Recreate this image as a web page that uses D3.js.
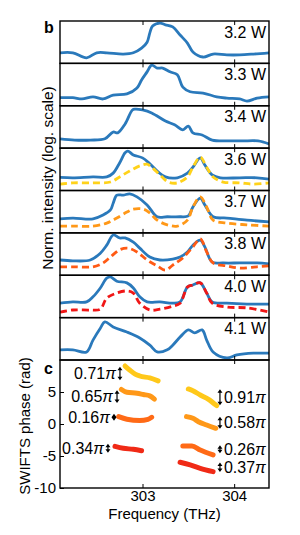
<!DOCTYPE html>
<html>
<head>
<meta charset="utf-8">
<script src="https://cdn.jsdelivr.net/npm/d3@7"></script>
<style>
body { margin: 0; background: #fff; }
svg { display: block; font-family: "Liberation Sans", Arial, sans-serif; }
</style>
</head>
<body>
<div id="chart"></div>
<script>
/* spectra vs pump power (b) and SWIFTS phase (c) */

// panel b: measured spectra, [frequency THz, norm. log intensity]
var powers = ['3.2 W', '3.3 W', '3.4 W', '3.6 W', '3.7 W', '3.8 W', '4.0 W', '4.1 W'];

var spec32 = [[302.10,0.25],[302.24,0.25],[302.39,0.13],[302.50,0.25],[302.61,0.25],[302.79,0.22],[302.90,0.25],[302.99,0.36],[303.05,0.5],[303.08,0.72],[303.11,0.88],[303.19,0.95],[303.25,0.91],[303.33,0.86],[303.41,0.67],[303.49,0.48],[303.55,0.27],[303.66,0.15],[303.77,0.22],[303.92,0.2],[304.06,0.2],[304.21,0.22],[304.38,0.25]];
var spec33 = [[302.10,0.19],[302.24,0.19],[302.34,0.16],[302.46,0.21],[302.57,0.16],[302.68,0.25],[302.83,0.28],[302.94,0.42],[302.99,0.61],[303.05,0.8],[303.10,0.96],[303.16,0.89],[303.22,0.89],[303.30,0.8],[303.38,0.73],[303.44,0.44],[303.52,0.33],[303.66,0.3],[303.81,0.21],[303.92,0.18],[304.06,0.16],[304.14,0.11],[304.25,0.18],[304.38,0.21]];
var spec34 = [[302.10,0.22],[302.26,0.19],[302.43,0.19],[302.59,0.22],[302.68,0.38],[302.73,0.36],[302.81,0.57],[302.89,0.9],[302.92,0.92],[303.00,0.9],[303.10,0.83],[303.25,0.64],[303.35,0.55],[303.44,0.43],[303.50,0.52],[303.55,0.36],[303.65,0.31],[303.76,0.19],[303.93,0.17],[304.09,0.17],[304.26,0.17],[304.38,0.1]];
var spec36 = [[302.10,0.31],[302.24,0.3],[302.46,0.32],[302.61,0.32],[302.68,0.41],[302.75,0.65],[302.81,0.89],[302.84,0.93],[302.90,0.84],[303.00,0.77],[303.08,0.63],[303.17,0.44],[303.25,0.32],[303.38,0.3],[303.49,0.41],[303.55,0.55],[303.63,0.77],[303.68,0.6],[303.76,0.37],[303.85,0.3],[304.06,0.3],[304.25,0.3],[304.38,0.27]];
var spec37 = [[302.10,0.33],[302.24,0.35],[302.46,0.33],[302.57,0.42],[302.65,0.54],[302.68,0.7],[302.72,0.89],[302.79,0.89],[302.86,0.92],[302.94,0.85],[303.05,0.66],[303.16,0.38],[303.27,0.38],[303.41,0.38],[303.50,0.4],[303.55,0.61],[303.63,0.82],[303.68,0.66],[303.77,0.38],[303.92,0.35],[304.14,0.3],[304.38,0.26]];
var spec38 = [[302.10,0.36],[302.24,0.34],[302.43,0.36],[302.54,0.52],[302.61,0.71],[302.68,0.95],[302.75,0.88],[302.81,0.88],[302.90,0.78],[302.97,0.64],[303.08,0.43],[303.19,0.36],[303.33,0.38],[303.41,0.43],[303.49,0.55],[303.55,0.71],[303.63,0.83],[303.68,0.67],[303.76,0.31],[303.88,0.29],[304.06,0.29],[304.25,0.29],[304.38,0.27]];
var spec40 = [[302.10,0.34],[302.24,0.37],[302.39,0.37],[302.46,0.49],[302.54,0.7],[302.61,0.93],[302.65,0.96],[302.72,0.86],[302.83,0.82],[302.90,0.7],[302.97,0.49],[303.05,0.37],[303.19,0.37],[303.33,0.34],[303.41,0.37],[303.49,0.72],[303.55,0.77],[303.63,0.82],[303.70,0.58],[303.76,0.37],[303.92,0.34],[304.14,0.32],[304.38,0.32]];
var spec41 = [[302.10,0.24],[302.24,0.24],[302.39,0.19],[302.46,0.47],[302.54,0.75],[302.59,0.9],[302.68,0.78],[302.83,0.66],[302.97,0.52],[303.08,0.35],[303.16,0.19],[303.27,0.24],[303.33,0.35],[303.41,0.54],[303.50,0.71],[303.57,0.64],[303.65,0.71],[303.70,0.47],[303.77,0.19],[303.92,0.05],[304.03,0.12],[304.21,0.16],[304.38,0.16]];

// panel b: simulated spectra (dashed)
var sim36 = [[302.10,0.15],[302.24,0.18],[302.46,0.18],[302.65,0.2],[302.75,0.32],[302.86,0.46],[302.97,0.58],[303.05,0.62],[303.11,0.53],[303.19,0.37],[303.28,0.2],[303.38,0.18],[303.49,0.32],[303.55,0.55],[303.63,0.79],[303.70,0.55],[303.77,0.32],[303.88,0.2],[304.06,0.18],[304.21,0.15],[304.38,0.18]];
var sim37 = [[302.10,0.16],[302.24,0.16],[302.46,0.16],[302.61,0.23],[302.72,0.35],[302.83,0.49],[302.90,0.56],[303.01,0.56],[303.08,0.47],[303.16,0.3],[303.27,0.19],[303.38,0.16],[303.49,0.3],[303.55,0.61],[303.63,0.85],[303.70,0.61],[303.77,0.3],[303.92,0.23],[304.14,0.19],[304.38,0.16]];
var sim38 = [[302.10,0.2],[302.24,0.2],[302.46,0.2],[302.57,0.29],[302.65,0.43],[302.75,0.6],[302.84,0.64],[302.94,0.55],[303.05,0.36],[303.16,0.22],[303.25,0.12],[303.33,0.24],[303.44,0.41],[303.55,0.67],[303.63,0.86],[303.70,0.55],[303.77,0.29],[303.92,0.22],[304.06,0.17],[304.25,0.2],[304.38,0.22]];
var sim40 = [[302.10,0.13],[302.24,0.18],[302.43,0.18],[302.54,0.2],[302.61,0.46],[302.72,0.58],[302.83,0.63],[302.90,0.58],[302.97,0.34],[303.08,0.18],[303.19,0.2],[303.33,0.27],[303.41,0.34],[303.49,0.72],[303.55,0.77],[303.63,0.82],[303.70,0.58],[303.76,0.34],[303.92,0.25],[304.14,0.23],[304.38,0.13]];

var measured = [spec32, spec33, spec34, spec36, spec37, spec38, spec40, spec41];
var simulated = [null, null, null, sim36, sim37, sim38, sim40, null];
var simColors = [null, null, null, '#ffd21a', '#ff9818', '#ff5a14', '#f01616'];

// panel c: SWIFTS phase, [frequency THz, phase rad]
var phaseA = [[302.81,9.06],[302.86,8.44],[302.92,7.8],[302.97,7.5],[303.08,7.2],[303.17,6.75]];
var phaseB = [[302.77,5.4],[302.83,4.95],[302.94,4.8],[303.01,4.6],[303.08,4.4],[303.13,3.9]];
var phaseC = [[302.74,1.15],[302.83,0.75],[302.97,0.55],[303.06,0.73],[303.10,1.05]];
var phaseD = [[302.70,-3.5],[302.79,-3.8],[302.90,-3.95],[302.99,-4.17]];
var phaseE = [[303.50,5.47],[303.55,5.2],[303.63,4.53],[303.72,3.86],[303.81,2.86]];
var phaseF = [[303.48,1.15],[303.55,0.89],[303.61,0.36],[303.70,-0.16],[303.80,-0.67]];
var phaseG = [[303.44,-3.44],[303.54,-3.44],[303.63,-4.06],[303.77,-4.84]];
var phaseH = [[303.41,-5.98],[303.52,-6.4],[303.63,-6.92],[303.77,-7.45]];
var phaseSeries = [phaseA, phaseB, phaseC, phaseD, phaseE, phaseF, phaseG, phaseH];
var phaseColors = ['#ffc81a', '#ff9818', '#ff6a16', '#f02a16', '#ffc81a', '#ff9818', '#ff6a16', '#f02a16'];

// phase jump annotations
var jumpText = ['0.71', '0.65', '0.16', '0.34', '0.91', '0.58', '0.26', '0.37'];
var jumpPi = [0.71, 0.65, 0.16, 0.34, 0.91, 0.58, 0.26, 0.37];
var jumpFreq = [302.754, 302.722, 302.689, 302.623, 303.845, 303.845, 303.845, 303.845];
var jumpPhase = [7.9, 4.27, 1.05, -3.8, 4.17, 0.2, -3.95, -6.77];
var jumpSide = ['left', 'left', 'left', 'left', 'right', 'right', 'right', 'right'];

var xTicks = [303, 304];
var phaseTicks = [5, 0, -5, -10];

// layout
var fullWidth = 300, fullHeight = 535;
var left = 60, right = 269;
var bTop = 21, bBottom = 360;
var panelH = (bBottom - bTop) / powers.length;
var cTop = 360, cBottom = 488;
var blue = '#2a79bb';

var svg = d3.select('#chart')
	.append('svg')
	.attr('width', fullWidth)
	.attr('height', fullHeight);

var x = d3.scaleLinear().domain([302.1, 304.38]).range([left, right]);
var yPanel = d3.scaleLinear().domain([0, 1]).range([panelH, 0]);

var specLine = d3.line()
	.x(function(d) { return x(d[0]); })
	.y(function(d) { return yPanel(d[1]); })
	.curve(d3.curveCatmullRom.alpha(0.5));

svg.append('defs').append('clipPath')
	.attr('id', 'clipb')
	.append('rect')
	.attr('x', left).attr('y', 0)
	.attr('width', right - left).attr('height', panelH);

// panel b, one strip per pump power
powers.forEach(function(p, i) {
	var g = svg.append('g')
		.attr('transform', 'translate(0,' + (bTop + i * panelH) + ')');
	var inner = g.append('g').attr('clip-path', 'url(#clipb)');

	inner.append('path')
		.datum(measured[i])
		.attr('d', specLine)
		.attr('fill', 'none')
		.attr('stroke', blue)
		.attr('stroke-width', 2.8)
		.attr('stroke-linejoin', 'round');

	if (simulated[i]) {
		inner.append('path')
			.datum(simulated[i])
			.attr('d', specLine)
			.attr('fill', 'none')
			.attr('stroke', simColors[i])
			.attr('stroke-width', 2.8)
			.attr('stroke-dasharray', '7,4');
	}

	g.append('g')
		.attr('transform', 'translate(0,' + panelH + ')')
		.call(d3.axisBottom(x).tickValues(xTicks).tickSize(-4).tickFormat(''))
		.call(function(a) { a.select('.domain').remove(); });
	g.append('g')
		.call(d3.axisTop(x).tickValues(xTicks).tickSize(-4).tickFormat(''))
		.call(function(a) { a.select('.domain').remove(); });

	g.append('rect')
		.attr('x', left).attr('y', 0)
		.attr('width', right - left).attr('height', panelH)
		.attr('fill', 'none')
		.attr('stroke', '#000')
		.attr('stroke-width', 1.4);

	g.append('text')
		.attr('x', right - 3)
		.attr('y', 16.5)
		.attr('text-anchor', 'end')
		.attr('font-size', 16)
		.text(p);
});

svg.append('text')
	.attr('transform', 'translate(53,178) rotate(-90)')
	.attr('text-anchor', 'middle')
	.attr('font-size', 15.5)
	.text('Norm. intensity (log. scale)');

svg.append('text')
	.attr('x', 44).attr('y', 33)
	.attr('font-size', 16)
	.attr('font-weight', 'bold')
	.text('b');

// panel c, phase
var yPhase = d3.scaleLinear().domain([-10, 10]).range([cBottom, cTop]);
var phaseLine = d3.line()
	.x(function(d) { return x(d[0]); })
	.y(function(d) { return yPhase(d[1]); })
	.curve(d3.curveMonotoneX);

var gc = svg.append('g');

phaseSeries.forEach(function(s, i) {
	gc.append('path')
		.datum(s)
		.attr('d', phaseLine)
		.attr('fill', 'none')
		.attr('stroke', phaseColors[i])
		.attr('stroke-width', 5)
		.attr('stroke-linecap', 'round')
		.attr('stroke-linejoin', 'round');
});

// double arrows for the phase jumps (length follows the jump, squeezed a bit)
jumpText.forEach(function(t, i) {
	var ax = x(jumpFreq[i]);
	var cy = yPhase(jumpPhase[i]);
	var jumpPx = yPhase(0) - yPhase(jumpPi[i] * Math.PI);
	var half = (0.6 * jumpPx + 5) / 2;
	var y1 = cy - half, y2 = cy + half;
	gc.append('line')
		.attr('x1', ax).attr('x2', ax)
		.attr('y1', y1 + 2).attr('y2', y2 - 2)
		.attr('stroke', '#000').attr('stroke-width', 1.2);
	gc.append('path')
		.attr('d', 'M' + (ax - 2.5) + ',' + (y1 + 3.5) + 'L' + ax + ',' + y1 + 'L' + (ax + 2.5) + ',' + (y1 + 3.5) + 'Z' +
			'M' + (ax - 2.5) + ',' + (y2 - 3.5) + 'L' + ax + ',' + y2 + 'L' + (ax + 2.5) + ',' + (y2 - 3.5) + 'Z')
		.attr('fill', '#000');

	var lbl = gc.append('text')
		.attr('x', jumpSide[i] == 'left' ? ax - 4 : ax + 4)
		.attr('y', cy + 5.5)
		.attr('text-anchor', jumpSide[i] == 'left' ? 'end' : 'start')
		.attr('font-size', 16);
	lbl.append('tspan').text(t);
	lbl.append('tspan').attr('font-style', 'italic').text('\u03c0');
});

gc.append('g')
	.attr('transform', 'translate(0,' + cBottom + ')')
	.call(d3.axisBottom(x).tickValues(xTicks).tickSize(-4).tickPadding(2).tickFormat(d3.format('d')))
	.call(function(a) { a.select('.domain').remove(); a.selectAll('text').attr('font-size', 15).attr('font-family', null); });
gc.append('g')
	.attr('transform', 'translate(0,' + cTop + ')')
	.call(d3.axisTop(x).tickValues(xTicks).tickSize(-4).tickFormat(''))
	.call(function(a) { a.select('.domain').remove(); });
gc.append('g')
	.attr('transform', 'translate(' + left + ',0)')
	.call(d3.axisLeft(yPhase).tickValues(phaseTicks).tickSize(-4).tickPadding(4)
		.tickFormat(function(d) { return String(d); }))
	.call(function(a) { a.select('.domain').remove(); a.selectAll('text').attr('font-size', 15).attr('font-family', null); });

gc.append('rect')
	.attr('x', left).attr('y', cTop)
	.attr('width', right - left).attr('height', cBottom - cTop)
	.attr('fill', 'none')
	.attr('stroke', '#000')
	.attr('stroke-width', 1.4);

svg.append('text')
	.attr('x', (left + right) / 2).attr('y', 519)
	.attr('text-anchor', 'middle')
	.attr('font-size', 15)
	.text('Frequency (THz)');

svg.append('text')
	.attr('transform', 'translate(30,426) rotate(-90)')
	.attr('text-anchor', 'middle')
	.attr('font-size', 15)
	.text('SWIFTS phase (rad)');

svg.append('text')
	.attr('x', 44).attr('y', 374)
	.attr('font-size', 16)
	.attr('font-weight', 'bold')
	.text('c');
</script>
</body>
</html>
